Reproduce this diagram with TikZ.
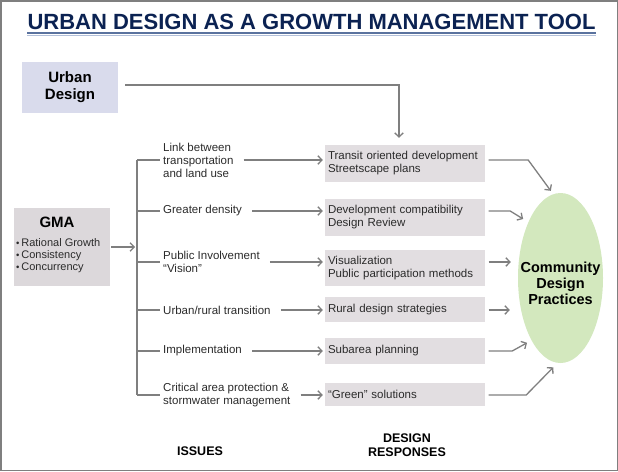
\documentclass[tikz,border=0pt]{standalone}
\usepackage{fontspec}
\setmainfont{Liberation Sans}
\usetikzlibrary{arrows.meta,shapes.geometric}
\definecolor{titleblue}{HTML}{0B2252}
\definecolor{ulinedark}{HTML}{5A729E}
\definecolor{ulinelight}{HTML}{B3C0D9}
\definecolor{udblue}{HTML}{D9DBEC}
\definecolor{gmagray}{HTML}{DCD8DB}
\definecolor{respgray}{HTML}{E2DEE1}
\definecolor{cdpgreen}{HTML}{D3E8BE}
\definecolor{arrgray}{HTML}{7F7F7F}
\definecolor{txtgray}{HTML}{2B2B2B}
\begin{document}
\begin{tikzpicture}[x=1pt, y=-1pt,
  arr/.style={draw=arrgray, line width=1.3pt, -{Straight Barb[length=4pt,width=8.5pt]}},
  bracket/.style={draw=arrgray, line width=1.3pt},
  issue/.style={anchor=west, inner sep=0pt, align=left, text=txtgray, font=\fontsize{11.5}{13}\selectfont},
  resp/.style={fill=respgray, inner xsep=3pt, inner ysep=0pt, text width=154pt, align=left,
    minimum height=#1, text=txtgray, font=\fontsize{11.5}{13}\selectfont},
  heading/.style={align=center, font=\bfseries\fontsize{12.5}{14}\selectfont}]
  \useasboundingbox (0,0) rectangle (618,471);
  \draw[arrgray, line width=1.5pt] (0.75,0.75) rectangle (617.25,470.25);
  % title
  \node[anchor=base, inner sep=0pt, text=titleblue, font=\bfseries\fontsize{22}{26}\selectfont]
    (title) at (311.5,29) {URBAN DESIGN AS A GROWTH MANAGEMENT TOOL};
  \draw[ulinedark, line width=2pt] ([yshift=-3.5pt]title.south west) -- ([yshift=-3.5pt]title.south east);
  \draw[ulinelight, line width=1.5pt] ([yshift=-6.3pt]title.south west) -- ([yshift=-6.3pt]title.south east);
  % sources
  \node[fill=udblue, minimum width=96pt, minimum height=51pt, align=center,
    font=\bfseries\fontsize{15}{17}\selectfont] (ud) at (70,87.5) {Urban\\Design};
  \node[fill=gmagray, minimum width=96pt, minimum height=78pt] (gma) at (62,247) {};
  \node[font=\bfseries\fontsize{15}{17}\selectfont] (gmahead) at (57,222) {GMA};
  \node[anchor=west, inner sep=0pt, align=left, text=txtgray, font=\fontsize{11}{12}\selectfont] (gmalist) at (16,256)
    {{\fontsize{9.5}{9.5}\selectfont\textbullet}\,Rational Growth\\
     {\fontsize{9.5}{9.5}\selectfont\textbullet}\,Consistency\\
     {\fontsize{9.5}{9.5}\selectfont\textbullet}\,Concurrency};
  \coordinate (br) at (137,247);
  \draw[arr, shorten <=1pt, shorten >=2pt] (gma.east) -- (gma.east -| br);
  % issues and design responses
  \foreach \n/\y/\ry/\h/\iss/\res in {
    1/160/163.5/37/{Link between\\transportation\\and land use}/{Transit oriented development\\Streetscape plans},
    2/211/217.5/37/{Greater density}/{Development compatibility\\Design Review},
    3/262/268/36/{Public Involvement\\``Vision''}/{Visualization\\Public participation methods},
    4/310/309.5/25/{Urban/rural transition}/{Rural design strategies},
    5/351/351/26/{Implementation}/{Subarea planning},
    6/395/394.5/23/{Critical area protection \&\\stormwater management}/{``Green'' solutions}} {
    \node[issue] (iss\n) at (163,\y) {\iss};
    \node[resp=\h] (resp\n) at (405,\ry) {\res};
    \draw[bracket] (br |- iss\n.west) -- ([xshift=-3pt]iss\n.west);
    \draw[arr, shorten <=10pt, shorten >=2pt] (iss\n.east) -- (iss\n.east -| resp\n.west);
  }
  \draw[bracket] (br |- iss1.west) -- (br |- iss6.west);
  \draw[arr, shorten <=7pt, shorten >=7pt] ([yshift=2.5pt]ud.east) -| ([xshift=-6pt]resp1.north);
  % community design practices
  \node[ellipse, fill=cdpgreen, inner sep=0pt, minimum width=85pt, minimum height=170pt] (cdp) at (560.5,278) {};
  \node[align=center, font=\bfseries\fontsize{14.5}{16}\selectfont] (cdptext) at (560.5,283) {Community\\Design\\Practices};
  \draw[arr, shorten <=3.5pt, shorten >=4pt] (iss1.east -| resp1.east) -- ++(43,0) -- (cdp.95);
  \draw[arr, shorten <=3.5pt, shorten >=6pt] (iss2.east -| resp2.east) -- ++(25,0) -- (cdp.120);
  \draw[arr, shorten <=3.5pt, shorten >=7pt] (iss3.east -| resp3.east) -- (iss3.east -| cdp.west);
  \draw[arr, shorten <=3.5pt, shorten >=8pt] (iss4.east -| resp4.east) -- (iss4.east -| cdp.west);
  \draw[arr, shorten <=3.5pt, shorten >=5pt] (iss5.east -| resp5.east) -- ++(27,0) -- (cdp.245);
  \draw[arr, shorten <=3.5pt, shorten >=6pt] (iss6.east -| resp6.east) -- ++(41,0) -- (cdp.268);
  % column headings
  \node[heading] (issues) at (200,451) {ISSUES};
  \node[heading] (design) at (407,445) {DESIGN\\RESPONSES};
\end{tikzpicture}
\end{document}
